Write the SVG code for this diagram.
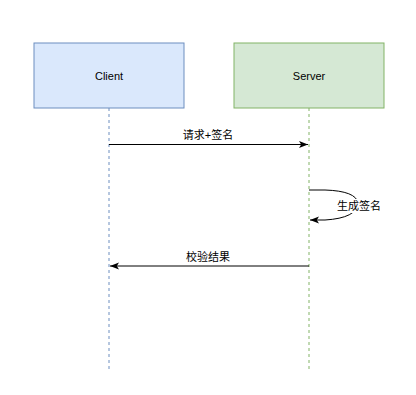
<svg xmlns="http://www.w3.org/2000/svg" width="416" height="395" viewBox="0 0 416 395">
<defs>
<style>
text{font-family:"Liberation Sans","Noto Sans CJK SC",sans-serif;font-size:11px;fill:#000;text-anchor:middle}
.life{stroke-width:1;stroke-dasharray:3 3;fill:none}
.msg{stroke:#000;stroke-width:1;fill:none}
</style>
<marker id="ah" markerWidth="10" markerHeight="8" refX="9" refY="4" orient="auto" markerUnits="userSpaceOnUse">
<path d="M0,0.5 L9,4 L0,7.5 L2.2,4 Z" fill="#000"/>
</marker>
</defs>
<rect width="416" height="395" fill="#fff"/>
<g id="client">
<line class="life" x1="109" y1="108" x2="109" y2="369" stroke="#6c8ebf"/>
<rect x="34" y="43" width="150" height="65" fill="#dae8fc" stroke="#6c8ebf"/>
<text x="109" y="79.5" font-size="12">Client</text>
</g>
<g id="server">
<line class="life" x1="309" y1="108" x2="309" y2="369" stroke="#82b366"/>
<rect x="234" y="43" width="150" height="65" fill="#d5e8d4" stroke="#82b366"/>
<text x="309" y="79.5" font-size="12">Server</text>
</g>
<g id="connectors">
<line class="msg" x1="109" y1="144.5" x2="308" y2="144.5" marker-end="url(#ah)"/>
<text x="208" y="139">请求+签名</text>
<path class="msg" d="M309,190 L325,190 Q356,191 358,203 Q357,218 325,220 L310,220" marker-end="url(#ah)"/>
<rect x="336" y="199" width="46" height="14" fill="#fff"/>
<text x="359" y="210">生成签名</text>
<line class="msg" x1="309" y1="266" x2="110" y2="266" marker-end="url(#ah)"/>
<text x="208" y="261">校验结果</text>
</g>
</svg>
